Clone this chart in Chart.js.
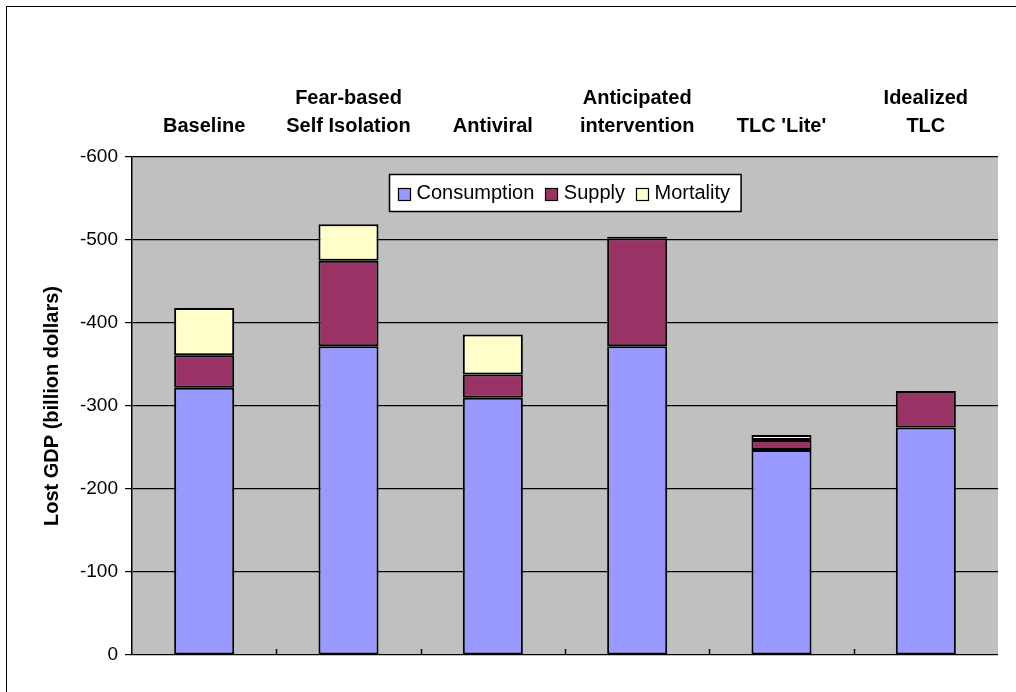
<!DOCTYPE html>
<html>
<head>
<meta charset="utf-8">
<title>Lost GDP by scenario</title>
<script src="https://cdn.jsdelivr.net/npm/chart.js@4.4.1/dist/chart.umd.min.js"></script>
<style>
  html, body { margin: 0; padding: 0; background: #ffffff; }
  canvas { display: block; }
</style>
</head>
<body>
<canvas id="chart" width="1016" height="692"></canvas>
<script>
// Scenarios (multi-line names are split into lines)
const categories = [
  'Baseline',
  ['Fear-based', 'Self Isolation'],
  'Antiviral',
  ['Anticipated', 'intervention'],
  "TLC 'Lite'",
  ['Idealized', 'TLC']
];

// Lost GDP components, billion dollars (losses are negative)
const consumption = [-322, -372, -310, -372, -247, -274];
const supply      = [-39, -103, -28, -130, -12, -44];
const mortality   = [-57, -44, -48, -2, -6, 0];

// Value axis
const yMin = -600;
const yMax = 0;
const yStep = 100;

const FONT = '"Liberation Sans", Arial, Helvetica, sans-serif';

// Grey plot background and the outer frame
const backdrop = {
  id: 'backdrop',
  beforeDraw(chart) {
    const { ctx, chartArea: a } = chart;
    ctx.save();
    ctx.fillStyle = '#c0c0c0';
    ctx.fillRect(a.left, a.top, a.right - a.left, a.bottom - a.top);
    ctx.strokeStyle = '#000000';
    ctx.lineWidth = 1;
    ctx.strokeRect(6.5, 6.5, 1200, 1200);
    ctx.restore();
  }
};

// Short inward ticks on the bottom edge between categories
const boundaryTicks = {
  id: 'boundaryTicks',
  afterDatasetsDraw(chart) {
    const { ctx, chartArea: a } = chart;
    const xs = chart.scales.x;
    ctx.save();
    ctx.strokeStyle = '#000000';
    ctx.lineWidth = 1.5;
    ctx.beginPath();
    for (let i = 0; i < categories.length - 1; i++) {
      const x = Math.round((xs.getPixelForValue(i) + xs.getPixelForValue(i + 1)) / 2) + 0.5;
      ctx.moveTo(x, a.bottom - 6);
      ctx.lineTo(x, a.bottom);
    }
    ctx.stroke();
    ctx.restore();
  }
};

// Boxed legend centred near the top of the plot area
const boxLegend = {
  id: 'boxLegend',
  afterDraw(chart) {
    const { ctx, chartArea: a } = chart;
    ctx.save();
    ctx.font = '20px ' + FONT;
    const items = chart.data.datasets.map(ds => ({
      label: ds.label,
      color: ds.backgroundColor,
      w: ctx.measureText(ds.label).width
    }));
    const padL = 8.5, sq = 12, gapT = 6.5, gapItem = 11, padR = 11, h = 37;
    let width = padL + padR + gapItem * (items.length - 1);
    items.forEach(it => { width += sq + gapT + it.w; });
    const x0 = Math.round((a.left + a.right) / 2 - width / 2) + 0.5;
    const y0 = Math.round(a.top + 17) + 0.5;
    ctx.fillStyle = '#ffffff';
    ctx.fillRect(x0, y0, width, h);
    ctx.strokeStyle = '#000000';
    ctx.lineWidth = 1.5;
    ctx.strokeRect(x0, y0, width, h);
    const cy = y0 + 19;
    let x = x0 + padL;
    items.forEach(it => {
      ctx.fillStyle = it.color;
      ctx.fillRect(Math.round(x) + 0.5, Math.round(cy - 6) + 0.5, sq, sq);
      ctx.lineWidth = 1.2;
      ctx.strokeRect(Math.round(x) + 0.5, Math.round(cy - 6) + 0.5, sq, sq);
      x += sq + gapT;
      ctx.fillStyle = '#000000';
      ctx.textBaseline = 'middle';
      ctx.textAlign = 'left';
      ctx.fillText(it.label, x, cy);
      x += it.w + gapItem;
    });
    ctx.restore();
  }
};

const barStyle = {
  borderColor: '#000000',
  borderWidth: 2,
  borderSkipped: false,
  barPercentage: 0.416,
  categoryPercentage: 1.0
};

new Chart(document.getElementById('chart'), {
  type: 'bar',
  data: {
    labels: categories,
    datasets: [
      Object.assign({ label: 'Consumption', data: consumption, backgroundColor: '#9999ff' }, barStyle),
      Object.assign({ label: 'Supply', data: supply, backgroundColor: '#993366' }, barStyle),
      Object.assign({ label: 'Mortality', data: mortality, backgroundColor: '#ffffcc' }, barStyle)
    ]
  },
  options: {
    responsive: false,
    animation: false,
    devicePixelRatio: 1,
    layout: { padding: { left: 0, right: 18, top: 0, bottom: 37 } },
    plugins: {
      legend: { display: false },
      tooltip: { enabled: false }
    },
    scales: {
      x: {
        position: 'top',
        stacked: true,
        grid: { display: false, drawTicks: false },
        border: { display: false },
        ticks: {
          color: '#000000',
          padding: 17,
          maxRotation: 0,
          autoSkip: false,
          font: { family: FONT, size: 20, weight: 'bold', lineHeight: 1.4 }
        },
        afterFit(scale) { scale.height = 157; }
      },
      y: {
        stacked: true,
        reverse: true,
        min: yMin,
        max: yMax,
        grid: { color: '#000000', lineWidth: 1.2, tickLength: 7 },
        border: { color: '#000000', width: 1.5 },
        ticks: {
          stepSize: yStep,
          color: '#000000',
          padding: 7,
          font: { family: FONT, size: 19 }
        },
        title: {
          display: true,
          text: 'Lost GDP (billion dollars)',
          color: '#000000',
          padding: { top: 40, bottom: 0 },
          font: { family: FONT, size: 20, weight: 'bold' }
        },
        afterFit(scale) { scale.width = 132; }
      }
    }
  },
  plugins: [backdrop, boundaryTicks, boxLegend]
});
</script>
</body>
</html>
